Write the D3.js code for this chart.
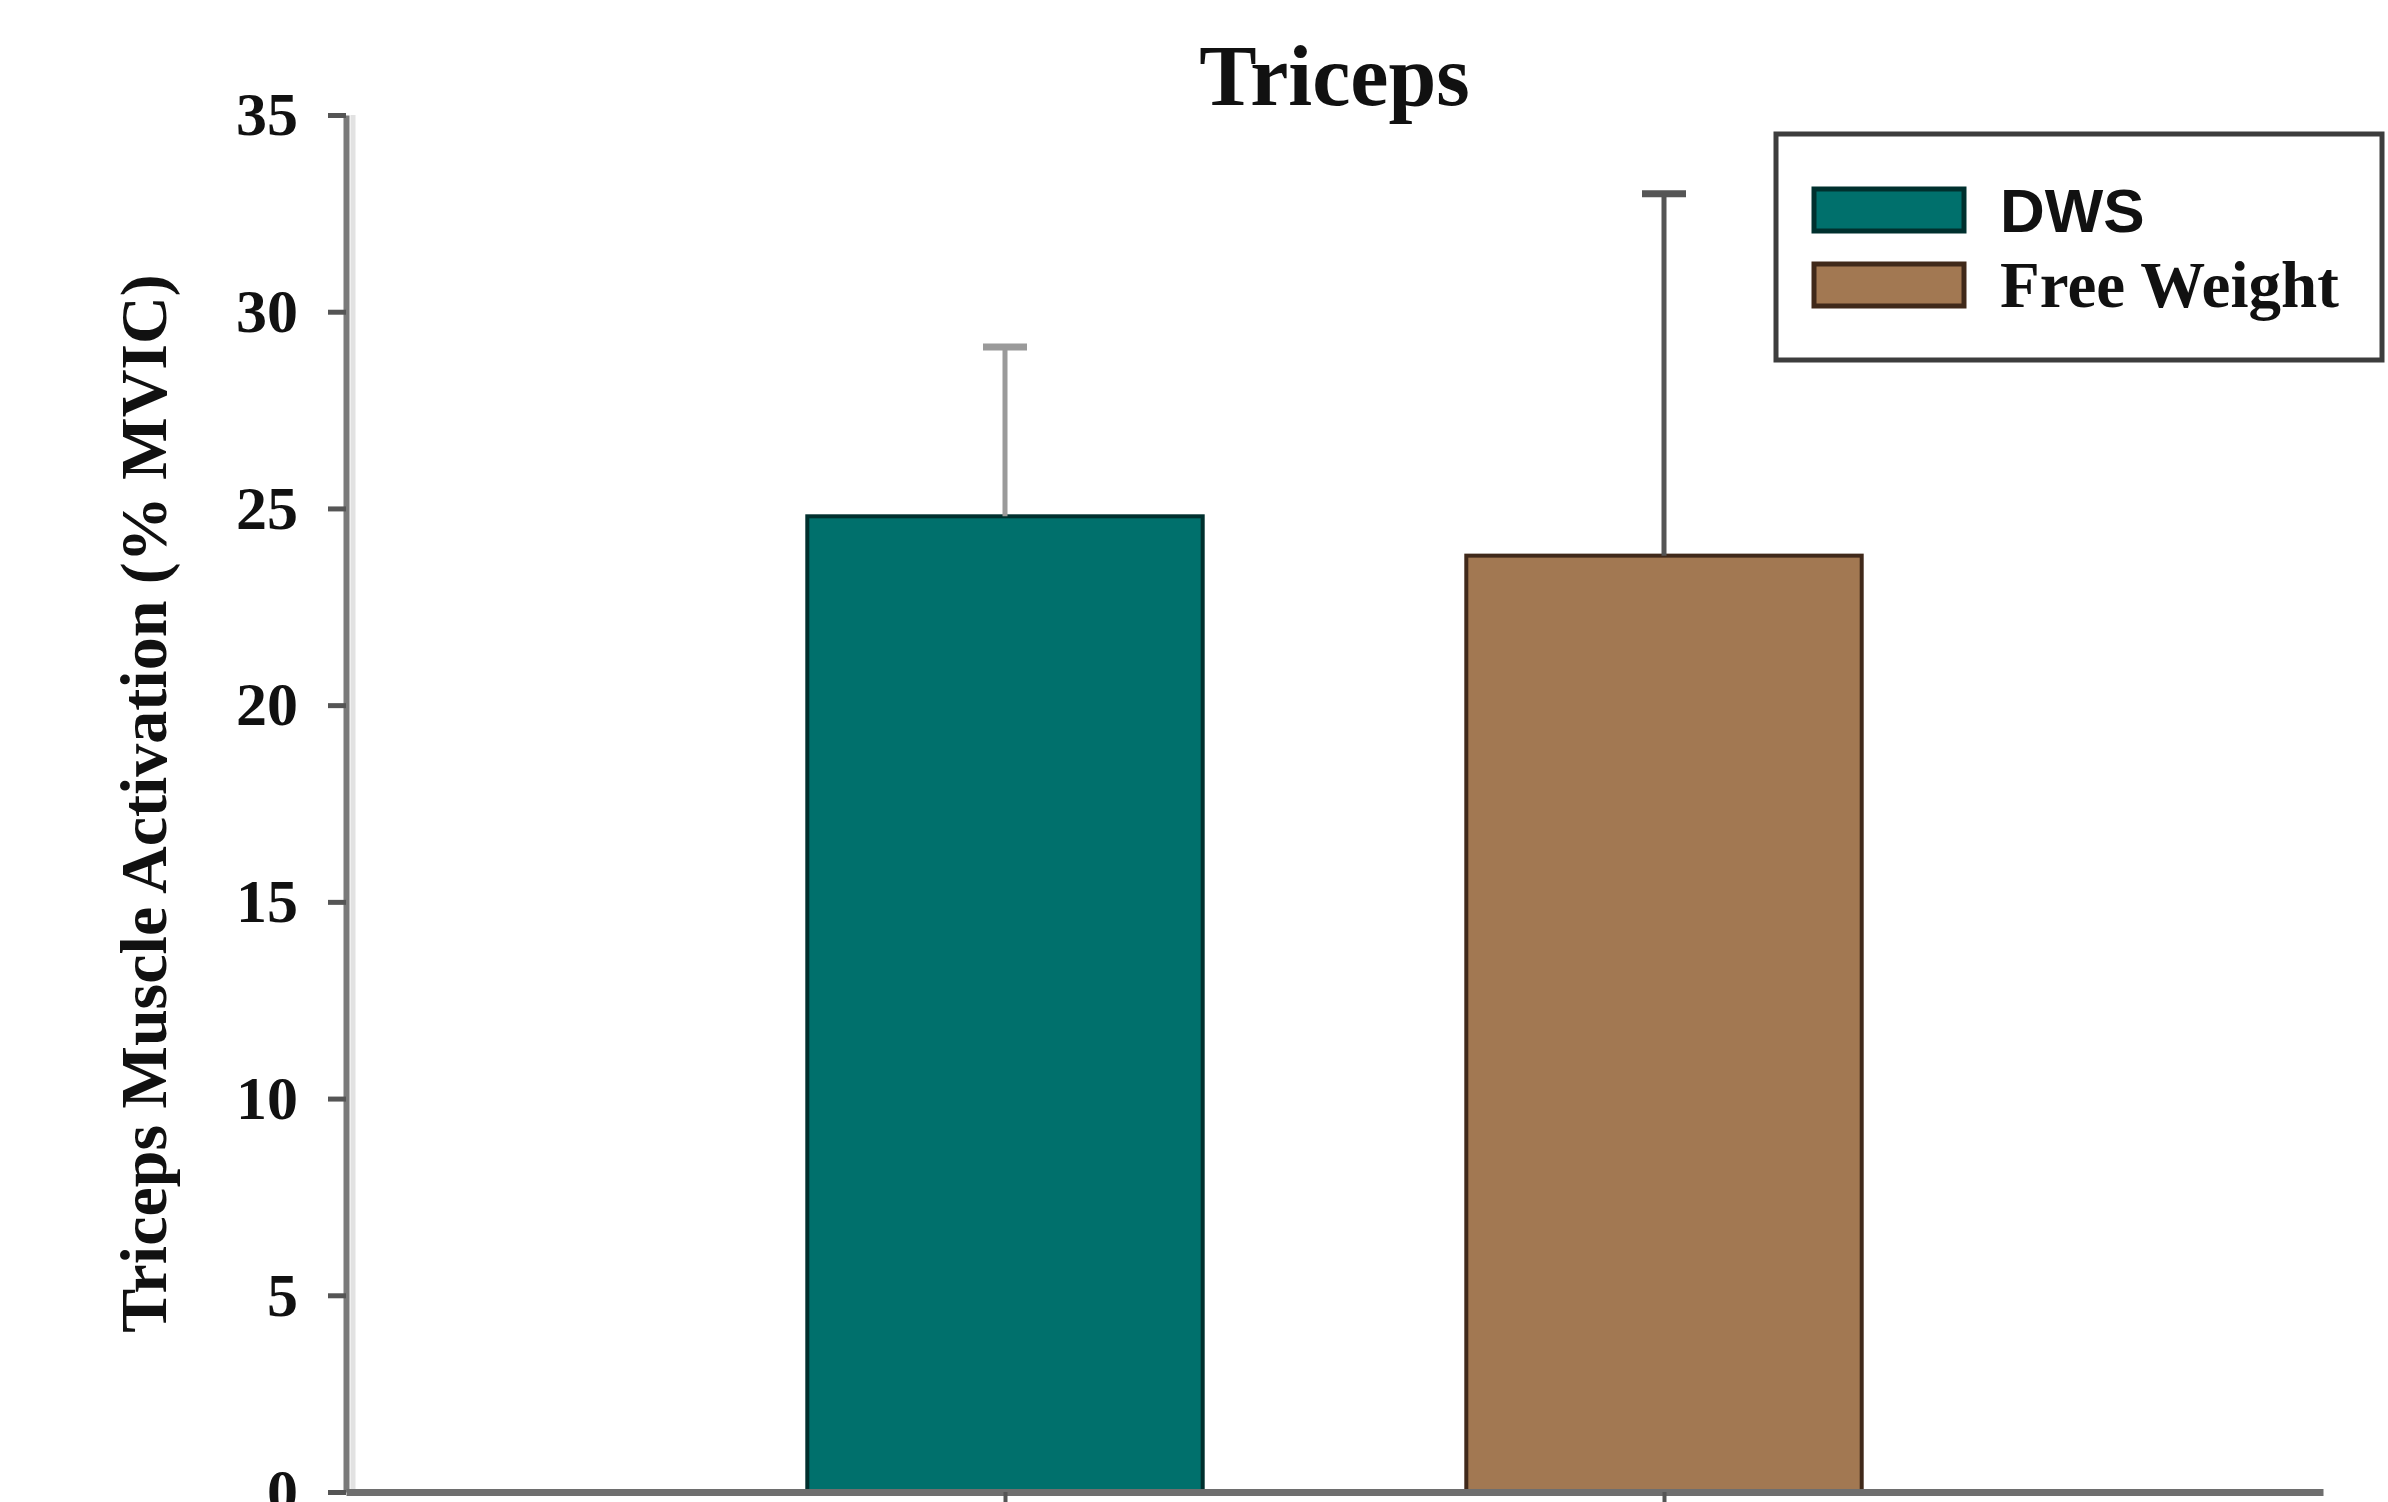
<!DOCTYPE html>
<html>
<head>
<meta charset="utf-8">
<script src="https://cdn.jsdelivr.net/npm/d3@7"></script>
<style>
  html, body { margin: 0; padding: 0; background: #fff; }
  svg { display: block; }
</style>
</head>
<body>
<svg id="chart" width="2388" height="1502"></svg>
<script>
// ---- data ----
const categories = ["DWS", "Free Weight"];
const means = [24.8, 23.8];
const errors = [4.3, 9.2];
const colors = ["#00706c", "#a27852"];
const strokeColors = ["#00302e", "#40291a"];
const errColors = ["#9a9a9a", "#555555"];
const yTicks = [0, 5, 10, 15, 20, 25, 30, 35];
const titleText = "Triceps";
const yLabel = "Triceps Muscle Activation (% MVIC)";

// ---- layout ----
const W = 2388, H = 1502;
const margin = { left: 346, right: 65, top: 115, bottom: 10 };
const svg = d3.select("#chart");

const x = d3.scalePoint()
  .domain(categories)
  .range([margin.left, W - margin.right])
  .padding(1);
const barW = x.step() * 0.6;

const y = d3.scaleLinear()
  .domain([0, 35])
  .range([H - margin.bottom, margin.top]);

// title
svg.append("text")
  .attr("x", (margin.left + W - margin.right) / 2)
  .attr("y", 105)
  .attr("text-anchor", "middle")
  .attr("font-family", "Liberation Serif, Times New Roman, serif")
  .attr("font-weight", "bold")
  .attr("font-size", 86)
  .attr("fill", "#111")
  .text(titleText);

// y label
svg.append("text")
  .attr("transform", `translate(166, ${(y(0) + y(35)) / 2}) rotate(-90)`)
  .attr("text-anchor", "middle")
  .attr("font-family", "Liberation Serif, Times New Roman, serif")
  .attr("font-weight", "bold")
  .attr("font-size", 66)
  .attr("fill", "#111")
  .text(yLabel);

// bars
const g = svg.append("g");
categories.forEach((c, i) => {
  g.append("rect")
    .attr("x", x(c) - barW / 2)
    .attr("y", y(means[i]))
    .attr("width", barW)
    .attr("height", y(0) - y(means[i]))
    .attr("fill", colors[i])
    .attr("stroke", strokeColors[i])
    .attr("stroke-width", 4);
  // error bar
  g.append("line")
    .attr("x1", x(c)).attr("x2", x(c))
    .attr("y1", y(means[i])).attr("y2", y(means[i] + errors[i]))
    .attr("stroke", errColors[i]).attr("stroke-width", 5);
  g.append("line")
    .attr("x1", x(c) - 22).attr("x2", x(c) + 22)
    .attr("y1", y(means[i] + errors[i])).attr("y2", y(means[i] + errors[i]))
    .attr("stroke", errColors[i]).attr("stroke-width", 7);
});

// y axis shadow
svg.append("line")
  .attr("x1", margin.left + 7).attr("x2", margin.left + 7)
  .attr("y1", y(35)).attr("y2", y(0))
  .attr("stroke", "#e2e2e2").attr("stroke-width", 5);

// y axis
const yAxis = svg.append("g")
  .attr("transform", `translate(${margin.left},0)`)
  .call(d3.axisLeft(y).tickValues(yTicks).tickSize(18).tickPadding(30).tickSizeOuter(0));
yAxis.select(".domain").attr("stroke", "#7a7a7a").attr("stroke-width", 6);
yAxis.selectAll(".tick line").attr("stroke", "#555").attr("stroke-width", 5);
yAxis.selectAll(".tick text")
  .attr("font-family", "Liberation Serif, Times New Roman, serif")
  .attr("font-weight", "bold")
  .attr("font-size", 62)
  .attr("fill", "#111");

// x axis
const xAxis = svg.append("g")
  .attr("transform", `translate(0,${y(0)})`)
  .call(d3.axisBottom(x).tickSize(14).tickFormat("").tickSizeOuter(0));
xAxis.select(".domain").attr("stroke", "#6e6e6e").attr("stroke-width", 7);
xAxis.selectAll(".tick line").attr("stroke", "#555").attr("stroke-width", 4);

// legend
const leg = svg.append("g");
leg.append("rect")
  .attr("x", 1776).attr("y", 134)
  .attr("width", 606).attr("height", 226)
  .attr("fill", "#fff")
  .attr("stroke", "#3d3d3d").attr("stroke-width", 5);
const legY = [210, 285];
const legFonts = ["Liberation Sans, Arial, sans-serif", "Liberation Serif, Times New Roman, serif"];
categories.forEach((c, i) => {
  leg.append("rect")
    .attr("x", 1814).attr("y", legY[i] - 21)
    .attr("width", 150).attr("height", 42)
    .attr("fill", colors[i])
    .attr("stroke", strokeColors[i]).attr("stroke-width", 5);
  leg.append("text")
    .attr("x", 2000).attr("y", legY[i] + 22)
    .attr("font-family", legFonts[i])
    .attr("font-weight", "bold")
    .attr("font-size", i === 0 ? 62 : 65)
    .attr("fill", "#111")
    .text(c);
});
</script>
</body>
</html>
